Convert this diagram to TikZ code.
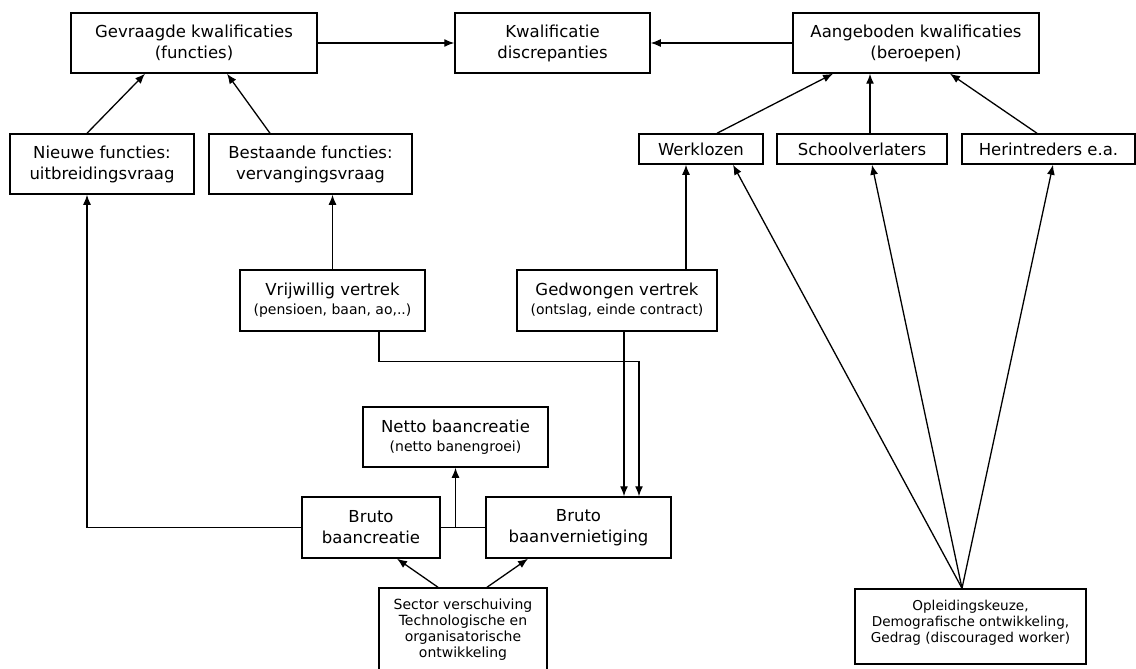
\documentclass[tikz,border=0pt]{standalone}
\usepackage{fontspec}
\setmainfont{DejaVu Sans}
\usetikzlibrary{arrows.meta}
\newcommand{\smallf}{\fontsize{14}{17}\selectfont}
\tikzset{
  box_/.style  = {shape=rectangle, draw, line width=1.5pt, align=center, inner sep=2pt,
                  font=\fontsize{16.5}{21}\selectfont},
  note_/.style = {box_, font=\fontsize{14}{16}\selectfont},
  arr_/.style  = {draw, line width=1.3pt, -{Latex[length=10pt,width=8pt]}},
  line_/.style = {draw, line width=1.3pt}
}

\begin{document}
\begin{tikzpicture}[x=1pt, y=-1pt]
  \useasboundingbox (0,0) rectangle (1136,669);

  % top row
  \node [box_, minimum width=246pt, minimum height=60pt] (gevraagd) at (194,43)
    {Gevraagde kwalificaties\\(functies)};
  \node [box_, minimum width=195pt, minimum height=60pt] (discrep) at (552.5,43)
    {Kwalificatie\\discrepanties};
  \node [box_, minimum width=246pt, minimum height=60pt] (aangeb) at (916,43)
    {Aangeboden kwalificaties\\(beroepen)};

  % second row
  \node [box_, minimum width=184pt, minimum height=60pt] (nieuw) at (102,164)
    {Nieuwe functies:\\uitbreidingsvraag};
  \node [box_, minimum width=203pt, minimum height=60pt] (bestaand) at (310.5,164)
    {Bestaande functies:\\vervangingsvraag};
  \node [box_, minimum width=124pt, minimum height=30pt] (werkl) at (701,149) {Werklozen};
  \node [box_, minimum width=170pt, minimum height=30pt] (school) at (862,149) {Schoolverlaters};
  \node [box_, minimum width=173pt, minimum height=30pt] (herintr) at (1048.5,149) {Herintreders e.a.};

  % vertrek
  \node [box_, minimum width=185pt, minimum height=61pt] (vrijw) at (332.5,300.5)
    {Vrijwillig vertrek\\[-2pt]{\smallf (pensioen, baan, ao,..)}};
  \node [box_, minimum width=200pt, minimum height=61pt] (gedw) at (617,300.5)
    {Gedwongen vertrek\\[-2pt]{\smallf (ontslag, einde contract)}};

  % banen
  \node [box_, minimum width=185pt, minimum height=60pt] (netto) at (455.5,437)
    {Netto baancreatie\\[-2pt]{\smallf (netto banengroei)}};
  \node [box_, minimum width=138pt, minimum height=61pt] (brutoC) at (371,527.5)
    {Bruto\\baancreatie};
  \node [box_, minimum width=185pt, minimum height=61pt] (brutoV) at (578.5,527.5)
    {Bruto\\baanvernietiging};

  % oorzaken
  \node [note_, minimum width=168pt, minimum height=84pt] (sector) at (463,630)
    {Sector verschuiving\\Technologische en\\organisatorische\\ontwikkeling};
  \node [note_, font=\fontsize{13.6}{16}\selectfont, minimum width=231pt, minimum height=75pt]
    (opleid) at (970.5,626.5)
    {Opleidingskeuze,\\Demografische ontwikkeling,\\Gedrag (discouraged worker)\\[-6pt]\mbox{}};

  % kwalificaties
  \draw [arr_] (gevraagd.east) -- (discrep.west);
  \draw [arr_] (aangeb.west) -- (discrep.east);
  \draw [arr_] ([xshift=-15pt]nieuw.north) -- ([xshift=-49pt]gevraagd.south);
  \draw [arr_] ([xshift=-40.5pt]bestaand.north) -- ([xshift=33pt]gevraagd.south);
  \draw [arr_] ([xshift=16pt]werkl.north) -- ([xshift=-83pt]aangeb.south);
  \draw [arr_] ([xshift=8pt]school.north) -- ([xshift=8pt]school.north |- aangeb.south);
  \draw [arr_] ([xshift=-11.5pt]herintr.north) -- ([xshift=34pt]aangeb.south);

  % vraag en aanbod
  \draw [arr_] (vrijw.north) -- (vrijw.north |- bestaand.south);
  \draw [arr_] ([xshift=69pt]gedw.north) -- ([xshift=69pt]gedw.north |- werkl.south);
  \draw [arr_] ([xshift=-8.5pt]opleid.north) -- ([xshift=32pt]werkl.south);
  \draw [arr_] ([xshift=-8.5pt]opleid.north) -- ([xshift=10pt]school.south);
  \draw [arr_] ([xshift=-8.5pt]opleid.north) -- ([xshift=4.5pt]herintr.south);

  % naar bruto baanvernietiging
  \draw [arr_] ([xshift=7pt]gedw.south) -- ([xshift=45.5pt]brutoV.north);
  \draw [arr_] ([xshift=46.5pt]vrijw.south) |- ++(0,30) -| ([xshift=60.5pt]brutoV.north);

  % bruto en netto
  \draw [arr_] (brutoC.west) -| ([xshift=-15pt]nieuw.south);
  \draw [line_] (brutoC.east) -- (brutoV.west);
  \draw [arr_] (netto.south |- brutoC.east) -- (netto.south);
  \draw [arr_] ([xshift=-25pt]sector.north) -- ([xshift=26pt]brutoC.south);
  \draw [arr_] ([xshift=24pt]sector.north) -- ([xshift=-50.5pt]brutoV.south);
\end{tikzpicture}
\end{document}
